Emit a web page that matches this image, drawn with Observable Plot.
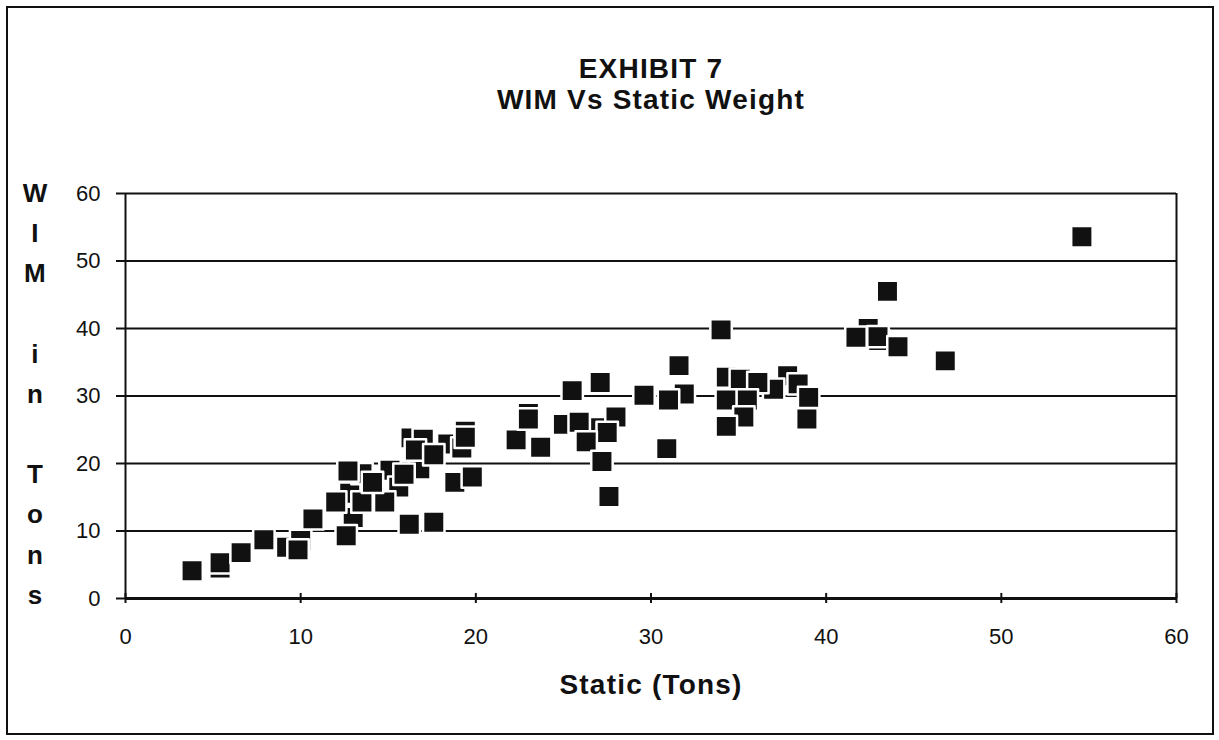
<!DOCTYPE html>
<html>
<head>
<meta charset="utf-8">
<script src="https://cdn.jsdelivr.net/npm/d3@7"></script>
<script src="https://cdn.jsdelivr.net/npm/@observablehq/plot@0.6"></script>
<style>
  html, body { margin: 0; padding: 0; background: #fff; }
  #wrap { position: relative; width: 1219px; height: 740px; overflow: hidden; }
  #frame { position: absolute; left: 6px; top: 6px; width: 1204px; height: 725px; border: 2px solid #111; box-sizing: content-box; pointer-events: none; }
  #chart { position: absolute; left: 0; top: 0; }
</style>
</head>
<body>
<div id="wrap"><div id="chart"></div><div id="frame"></div></div>
<script>
// Static weight (tons) and WIM weight (tons)
const staticTons = [
  5.4, 9.2, 10.0, 12.8, 13.5, 13.0, 15.1, 15.6, 16.8, 16.3, 17.0, 18.4, 19.4, 19.2, 18.8,
  3.8, 5.4, 6.6, 7.9, 9.85, 10.7, 12.7, 12.0, 12.6, 13.5, 14.8, 14.1, 15.9, 16.2, 17.6, 16.55, 17.6, 19.4, 19.8,
  23.0, 25.0, 27.0, 31.9, 37.8, 37.0, 42.4, 43.0,
  22.3, 23.7, 23.0, 25.5, 27.1, 25.9, 28.0, 27.5, 26.3, 27.2, 27.6, 29.6, 31.0, 31.6, 30.9,
  34.0, 34.3, 35.1, 36.1, 34.3, 35.5, 35.3, 34.3, 38.4, 39.0, 38.9,
  41.7, 42.96, 44.1, 43.5, 46.8, 54.6
];
const wimTons = [
  4.5, 7.6, 8.6, 15.6, 18.5, 12.0, 19.0, 16.5, 19.2, 23.8, 23.6, 22.9, 24.8, 22.3, 17.2,
  4.1, 5.3, 6.8, 8.7, 7.2, 11.8, 18.9, 14.3, 9.3, 14.3, 14.3, 17.2, 18.4, 11.0, 11.3, 22.0, 21.3, 23.9, 18.0,
  27.4, 25.8, 25.3, 30.3, 33.0, 31.0, 40.0, 38.2,
  23.5, 22.4, 26.6, 30.8, 32.0, 26.1, 26.9, 24.6, 23.2, 20.3, 15.1, 30.1, 29.4, 34.5, 22.2,
  39.8, 32.8, 32.5, 32.0, 29.4, 29.4, 26.9, 25.5, 31.8, 29.8, 26.6,
  38.7, 38.8, 37.3, 45.5, 35.2, 53.6
];
const xTicks = [0, 10, 20, 30, 40, 50, 60];
const yTicks = [0, 10, 20, 30, 40, 50, 60];
const titleLine1 = "EXHIBIT 7";
const titleLine2 = "WIM Vs Static Weight";
const xLabel = "Static (Tons)";
const yLabel = "W\nI\nM\n \ni\nn\n \nT\no\nn\ns";

const data = staticTons.map((s, i) => ({s, w: wimTons[i]}));

const chart = Plot.plot({
  width: 1219,
  height: 740,
  marginLeft: 125,
  marginRight: 43,
  marginTop: 193,
  marginBottom: 142,
  style: {fontFamily: "'Liberation Sans', Arial, Helvetica, sans-serif", background: "transparent", color: "#111"},
  x: {domain: [0, 60]},
  y: {domain: [0, 60]},
  marks: [
    Plot.ruleY(yTicks.slice(1), {stroke: "#111", strokeWidth: 2}),
    Plot.ruleX([0], {stroke: "#111", strokeWidth: 2}),
    Plot.ruleX([60], {stroke: "#111", strokeWidth: 2}),
    Plot.axisY({ticks: yTicks, tickSize: 9, tickPadding: 16, fontSize: 22, label: null, strokeWidth: 2}),
    Plot.axisX({ticks: xTicks, tickSize: 5, tickPadding: 25, fontSize: 22, label: null, strokeWidth: 2}),
    Plot.ruleX(xTicks, {y1: 0, y2: 0.75, stroke: "#111", strokeWidth: 2}),
    Plot.ruleY([0], {stroke: "#111", strokeWidth: 3}),
    Plot.dot(data, {x: "s", y: "w", symbol: "square", r: 12.1, fill: "#111", stroke: "white", strokeWidth: 2.5, strokeLinejoin: "round"}),
    Plot.text([titleLine1], {frameAnchor: "top", dy: -116, lineAnchor: "bottom", fontSize: 28, fontWeight: "bold"}),
    Plot.text([titleLine2], {frameAnchor: "top", dy: -85, lineAnchor: "bottom", fontSize: 28, fontWeight: "bold"}),
    Plot.text([xLabel], {frameAnchor: "bottom", dy: 95, lineAnchor: "bottom", fontSize: 28, fontWeight: "bold"}),
    Plot.text([yLabel], {frameAnchor: "left", dx: -90, dy: -6, textAnchor: "middle", lineAnchor: "middle", lineHeight: 1.546, fontSize: 26, fontWeight: "bold"})
  ]
});
d3.select(chart).selectAll('g[aria-label="text"] text').attr("letter-spacing", "1.2px");
document.getElementById("chart").appendChild(chart);
</script>
</body>
</html>
